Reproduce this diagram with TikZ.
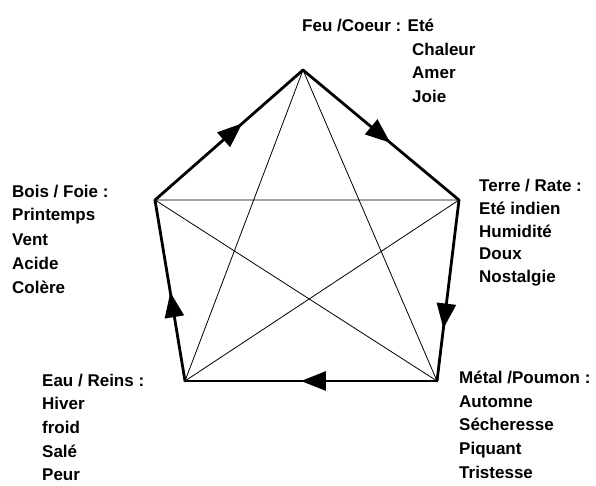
\documentclass[tikz,border=0pt]{standalone}
\usepackage{fontspec}
\setmainfont{Liberation Sans}
\usetikzlibrary{arrows.meta,decorations.markings}

\tikzset{
  lbl/.style={font=\bfseries\fontsize{17}{20}\selectfont, inner sep=0pt, anchor=base west},
  cycleedge/.style={line width=2.8pt, line cap=round, postaction={decorate},
    decoration={markings, mark=at position #1 with {\arrow{Triangle[length=25pt,width=19pt]}}}},
  starline/.style={line width=0.8pt},
}

\begin{document}
\begin{tikzpicture}[x=1pt,y=-1pt]
    \useasboundingbox (0,0) rectangle (596,486);
    % corners of the pentagon
    \coordinate (feu) at (303,70);
    \coordinate (terre) at (459,200);
    \coordinate (metal) at (437,381);
    \coordinate (eau) at (185,381);
    \coordinate (bois) at (155,200);
    % star inside
    \draw[starline] (feu) -- (metal) -- (bois) -- (terre) -- (eau) -- cycle;
    % outer cycle with arrows
    \draw[cycleedge=0.59] (bois) -- (feu);
    \draw[cycleedge=0.56] (feu) -- (terre);
    \draw[cycleedge=0.71] (terre) -- (metal);
    \draw[cycleedge=0.54] (metal) -- (eau);
    \draw[cycleedge=0.49] (eau) -- (bois);
    % Feu
    \node[lbl] (feutitle) at (302,32) {Feu /Coeur : Eté};
    \foreach \txt [count=\i] in {Chaleur,Amer,Joie}
        \node[lbl] (feu-\i) at (412,{32+\i*23.5}) {\txt};
    % Terre
    \node[lbl] (terretitle) at (479,192) {Terre / Rate :};
    \foreach \txt [count=\i] in {Eté indien,Humidité,Doux,Nostalgie}
        \node[lbl] (terre-\i) at (479,{192+\i*22.5}) {\txt};
    % Metal
    \node[lbl] (metaltitle) at (459,383.5) {Métal /Poumon :};
    \foreach \txt [count=\i] in {Automne,Sécheresse,Piquant,Tristesse}
        \node[lbl] (metal-\i) at (459,{383.5+\i*23.7}) {\txt};
    % Eau
    \node[lbl] (eautitle) at (42,386) {Eau / Reins :};
    \foreach \txt [count=\i] in {Hiver,froid,Salé,Peur}
        \node[lbl] (eau-\i) at (42,{386+\i*23.7}) {\txt};
    % Bois
    \node[lbl] (boistitle) at (12,197) {Bois / Foie :};
    \foreach \txt [count=\i] in {Printemps,Vent,Acide,Colère}
        \node[lbl] (bois-\i) at (12,{197+\i*24}) {\txt};
\end{tikzpicture}
\end{document}
